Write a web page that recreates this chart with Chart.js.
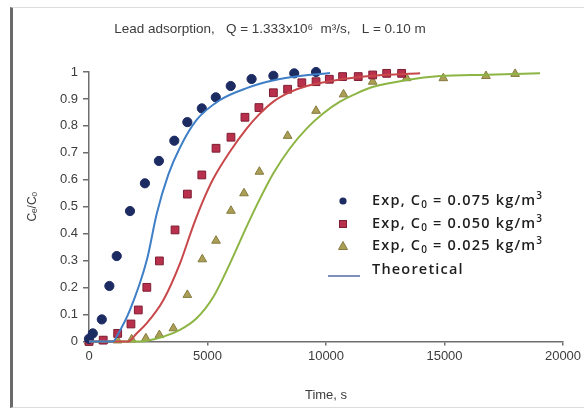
<!DOCTYPE html>
<html>
<head>
<meta charset="utf-8">
<script src="https://cdn.jsdelivr.net/npm/chart.js@4.4.1/dist/chart.umd.min.js"></script>
<style>
  html, body { margin: 0; padding: 0; background: #fff; overflow: hidden; }
  #wrap { position: relative; width: 584px; height: 408px; overflow: hidden; }
  #frame { position: absolute; left: 10px; top: 7px; width: 600px; height: 399px;
           border-left: 3px solid #6a6a6a; border-top: 1px solid #dcdcdc; border-bottom: 1px solid #dcdcdc; }
  #box { position: absolute; left: 0; top: 0; width: 600px; height: 408px; }
</style>
</head>
<body>
<div id="wrap">
  <div id="frame"></div>
  <div id="box"><canvas id="c"></canvas></div>
</div>
<script>
// ---- Data ----
const chartTitle = 'Lead adsorption,   Q = 1.333x10\u2076  m\u00B3/s,   L = 0.10 m';
const xTitle = 'Time, s';
const yTitle = 'C\u2091/C\u2092';

// Experimental, C0 = 0.075 kg/m3
const exp075X = [0, 160, 540, 860, 1170, 1730, 2360, 2950, 3600, 4150, 4760, 5350, 5980, 6860, 7780, 8660, 9580];
const exp075Y = [0.01, 0.03, 0.082, 0.206, 0.317, 0.484, 0.587, 0.670, 0.745, 0.814, 0.865, 0.906, 0.948, 0.974, 0.986, 0.995, 1.0];

// Experimental, C0 = 0.050 kg/m3
const exp050X = [0, 600, 1210, 1770, 2080, 2440, 2970, 3630, 4150, 4760, 5360, 5990, 6580, 7170, 7780, 8380, 8980, 9580, 10140, 10700, 11360, 11970, 12560, 13190];
const exp050Y = [0.0, 0.005, 0.030, 0.065, 0.117, 0.201, 0.299, 0.414, 0.547, 0.618, 0.717, 0.758, 0.832, 0.868, 0.923, 0.936, 0.960, 0.964, 0.973, 0.983, 0.983, 0.989, 0.995, 0.995];

// Experimental, C0 = 0.025 kg/m3
const exp025X = [0, 600, 1200, 1800, 2400, 2970, 3560, 4150, 4780, 5360, 5990, 6540, 7190, 8380, 9580, 10740, 11970, 13400, 14950, 16750, 17980];
const exp025Y = [0.0, 0.002, 0.004, 0.008, 0.012, 0.024, 0.049, 0.173, 0.305, 0.374, 0.485, 0.550, 0.630, 0.763, 0.856, 0.917, 0.964, 0.977, 0.977, 0.985, 0.993];

// Theoretical curves
const theo075X = [0, 1010, 1240, 1730, 2440, 2860, 3350, 3840, 4540, 5530, 6650, 7850, 8900, 10170];
const theo075Y = [0.0, 0.0, 0.030, 0.117, 0.302, 0.475, 0.62, 0.72, 0.822, 0.896, 0.940, 0.970, 0.985, 0.996];

const theo050X = [0, 1650, 2010, 2440, 3140, 3840, 4400, 4900, 5250, 5950, 6650, 7150, 7780, 8480, 9190, 10590, 12000, 13970];
const theo050Y = [0.0, 0.0, 0.030, 0.068, 0.154, 0.290, 0.430, 0.540, 0.605, 0.705, 0.790, 0.840, 0.890, 0.925, 0.948, 0.972, 0.986, 0.995];

const theo025X = [0, 2150, 3140, 3840, 4540, 5250, 5950, 6650, 7080, 7780, 8480, 9190, 9890, 10590, 11300, 12000, 13400, 14810, 16780, 19030];
const theo025Y = [0.0, 0.0, 0.018, 0.043, 0.086, 0.166, 0.290, 0.426, 0.506, 0.624, 0.717, 0.791, 0.847, 0.890, 0.921, 0.945, 0.970, 0.985, 0.990, 0.995];

const xTicks = [0, 5000, 10000, 15000, 20000];
const yTicks = [0, 0.1, 0.2, 0.3, 0.4, 0.5, 0.6, 0.7, 0.8, 0.9, 1];

const legendItems = [
  { c0: '0.075', kind: 'circle' },
  { c0: '0.050', kind: 'rect' },
  { c0: '0.025', kind: 'triangle' },
  { label: 'Theoretical', kind: 'line' }
];

// ---- Styles ----
const C_BLUE_PT = '#1d2b63', C_BLUE_LN = '#3f7fc6';
const C_RED_PT = '#b8304c', C_RED_BD = '#7e1d33', C_RED_LN = '#c8474a';
const C_GRN_PT = '#ab9f55', C_GRN_BD = '#857a3e', C_GRN_LN = '#8db544';
const C_LEG_LN = '#7f8fb8';
const TXT = '#3c3c3c';

const zip = (xs, ys) => xs.map((x, i) => ({ x: x, y: ys[i] }));

function lineDs(xs, ys, color) {
  return { data: zip(xs, ys), showLine: true, borderColor: color, borderWidth: 2,
           pointRadius: 0, pointHoverRadius: 0, cubicInterpolationMode: 'monotone', fill: false, clip: false };
}
function ptDs(xs, ys, style, bg, bd, r) {
  return { data: zip(xs, ys), showLine: false, pointStyle: style, pointRadius: r,
           pointBackgroundColor: bg, pointBorderColor: bd, pointBorderWidth: 1, clip: false };
}

const titlePlugin = {
  id: 'titleText',
  afterDraw(chart) {
    const ctx = chart.ctx;
    ctx.save();
    ctx.fillStyle = TXT;
    ctx.font = '13.5px "Liberation Sans", Arial, sans-serif';
    ctx.textAlign = 'center';
    ctx.textBaseline = 'middle';
    ctx.fillText(chartTitle, 270, 29);
    ctx.restore();
  }
};

const legendPlugin = {
  id: 'customLegend',
  afterDraw(chart) {
    const ctx = chart.ctx;
    const markerX = 343, textX = 372;
    const ys = [201, 224, 246, 270];
    const font = '"Open Sans", Lato, sans-serif';
    ctx.save();
    ctx.fillStyle = '#1e1e1e';
    ctx.textBaseline = 'middle';
    ctx.textAlign = 'left';
    legendItems.forEach((it, i) => {
      const y = ys[i];
      ctx.save();
      if (it.kind === 'circle') {
        ctx.fillStyle = C_BLUE_PT;
        ctx.beginPath(); ctx.arc(markerX, y, 3.6, 0, Math.PI * 2); ctx.fill();
      } else if (it.kind === 'rect') {
        ctx.fillStyle = C_RED_PT; ctx.strokeStyle = C_RED_BD; ctx.lineWidth = 1;
        ctx.fillRect(markerX - 3.5, y - 3.5, 7, 7); ctx.strokeRect(markerX - 3.5, y - 3.5, 7, 7);
      } else if (it.kind === 'triangle') {
        ctx.fillStyle = C_GRN_PT; ctx.strokeStyle = C_GRN_BD; ctx.lineWidth = 1;
        ctx.beginPath(); ctx.moveTo(markerX, y - 4.5); ctx.lineTo(markerX + 4.5, y + 3.5); ctx.lineTo(markerX - 4.5, y + 3.5); ctx.closePath();
        ctx.fill(); ctx.stroke();
      } else {
        ctx.strokeStyle = C_LEG_LN; ctx.lineWidth = 2;
        ctx.beginPath(); ctx.moveTo(328, y + 6); ctx.lineTo(360, y + 6); ctx.stroke();
      }
      ctx.restore();
      let x = textX;
      const big = '600 14.5px ' + font, small = '600 10px ' + font;
      try { ctx.letterSpacing = '1.2px'; } catch (e) {}
      const seg = (t, f, dy) => { ctx.font = f; ctx.fillText(t, x, y + dy); x += ctx.measureText(t).width; };
      if (it.kind === 'line') {
        seg(it.label, big, 0);
      } else {
        seg('Exp, C', big, 0);
        seg('0', small, 4);
        seg(' = ' + it.c0 + ' kg/m', big, 0);
        seg('3', small, -5);
      }
      try { ctx.letterSpacing = '0px'; } catch (e) {}
    });
    ctx.restore();
  }
};

const tickFont = { family: '"Liberation Sans", Arial, sans-serif', size: 13 };

new Chart(document.getElementById('c'), {
  type: 'scatter',
  data: {
    datasets: [
      lineDs(theo075X, theo075Y, C_BLUE_LN),
      lineDs(theo050X, theo050Y, C_RED_LN),
      lineDs(theo025X, theo025Y, C_GRN_LN),
      ptDs(exp075X, exp075Y, 'circle', C_BLUE_PT, C_BLUE_PT, 4.6),
      ptDs(exp050X, exp050Y, 'rect', C_RED_PT, C_RED_BD, 5.5),
      ptDs(exp025X, exp025Y, 'triangle', C_GRN_PT, C_GRN_BD, 5)
    ]
  },
  options: {
    responsive: true,
    maintainAspectRatio: false,
    animation: false,
    events: [],
    layout: { padding: { left: 14, right: 37, top: 72, bottom: 0 } },
    plugins: {
      legend: { display: false },
      tooltip: { enabled: false },
      title: { display: false }
    },
    scales: {
      x: {
        type: 'linear', min: 0, max: 20000,
        afterBuildTicks: (s) => { s.ticks = xTicks.map(v => ({ value: v })); },
        afterFit: (s) => { s.height = 66.5; },
        border: { display: true, color: '#6e6e6e', width: 1.5 },
        grid: { display: true, drawOnChartArea: false, drawTicks: true, tickLength: 4, color: '#6e6e6e', lineWidth: 1.5 },
        ticks: { color: TXT, font: tickFont, padding: 3, maxRotation: 0, autoSkip: false,
                 callback: (v) => String(v) },
        title: { display: true, text: xTitle, color: TXT,
                 font: { family: '"Liberation Sans", Arial, sans-serif', size: 13, lineHeight: 1.2 },
                 padding: { top: 0, bottom: 5 } }
      },
      y: {
        type: 'linear', min: 0, max: 1,
        afterBuildTicks: (s) => { s.ticks = yTicks.map(v => ({ value: v })); },
        afterFit: (s) => { s.width = 75; },
        border: { display: true, color: '#6e6e6e', width: 1.5 },
        grid: { display: true, drawOnChartArea: false, drawTicks: true, tickLength: 6, color: '#6e6e6e', lineWidth: 1.5 },
        ticks: { color: TXT, font: tickFont, padding: 5, autoSkip: false,
                 callback: (v) => String(Math.round(v * 10) / 10) },
        title: { display: true, text: yTitle, color: TXT,
                 font: { family: '"Liberation Sans", Arial, sans-serif', size: 12, lineHeight: 1.2 },
                 padding: { top: 11, bottom: 0 } }
      }
    }
  },
  plugins: [titlePlugin, legendPlugin]
});
</script>
</body>
</html>
